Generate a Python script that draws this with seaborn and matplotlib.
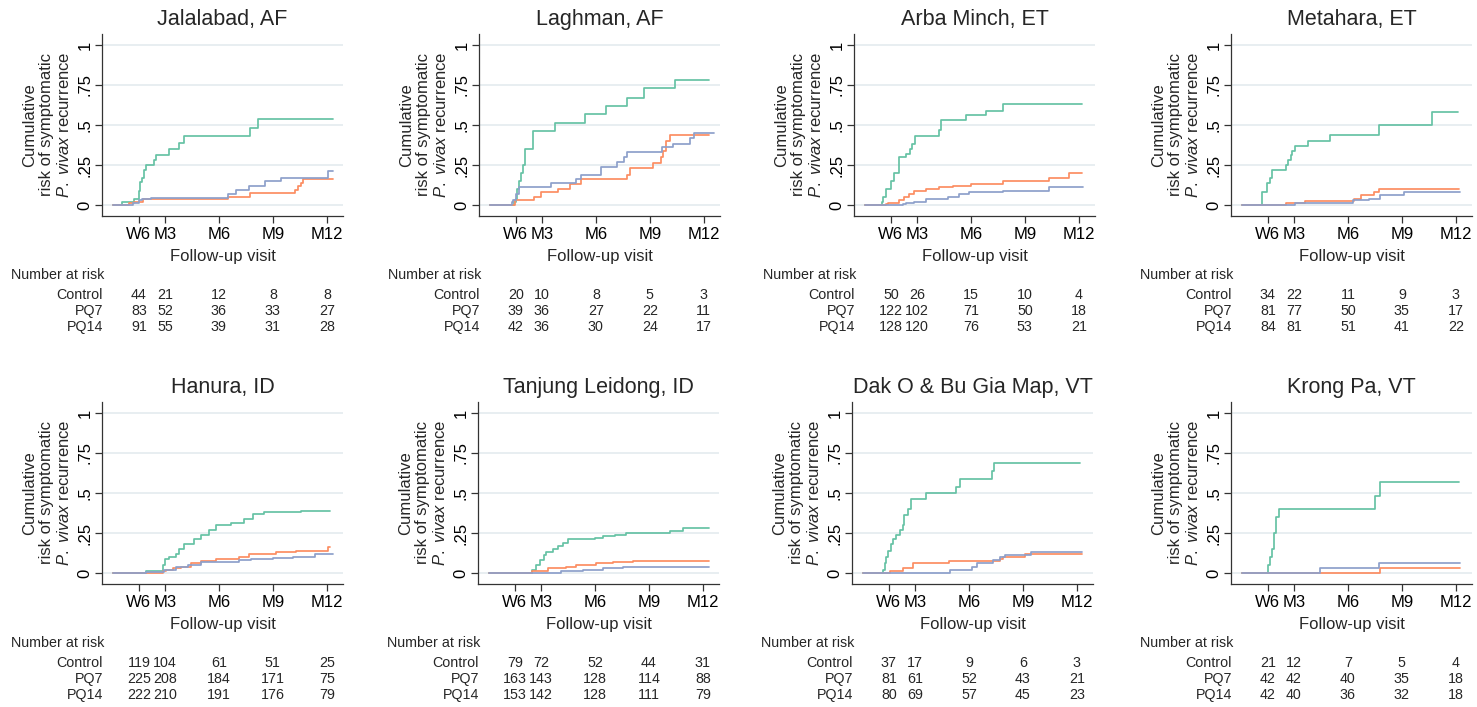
import matplotlib
matplotlib.use("Agg")
import matplotlib.pyplot as plt
import pandas as pd
import seaborn as sns
from matplotlib import font_manager
from matplotlib.transforms import blended_transform_factory

# ---------------------------------------------------------------- data
ARMS = ["Control", "PQ7", "PQ14"]
ARM_COLORS = ["#66c2a5", "#fc8d62", "#8da0cb"]
TICK_POS = [1.55, 3, 6, 9, 12]          # months after enrolment
TICK_LABELS = ["W6", "M3", "M6", "M9", "M12"]
Y_TICKS = [0, 0.25, 0.5, 0.75, 1]
Y_LABELS = ["0", ".25", ".5", ".75", "1"]

# Jalalabad, AF
jal_control_t = [0.1, 0.60, 1.29, 1.53, 1.63, 1.72, 1.81, 1.94, 2.41, 2.50, 3.24, 3.80, 4.08, 7.74, 8.17, 12.35]
jal_control_r = [0, 0.017, 0.04, 0.09, 0.146, 0.167, 0.22, 0.25, 0.28, 0.31, 0.35, 0.39, 0.43, 0.48, 0.54, 0.54]
jal_pq7_t = [0.1, 1.01, 1.29, 1.76, 6.50, 7.74, 10.21, 10.40, 10.59, 10.68, 12.35]
jal_pq7_r = [0, 0.01, 0.02, 0.035, 0.052, 0.073, 0.094, 0.12, 0.14, 0.16, 0.16]
jal_pq14_t = [0.1, 1.20, 1.53, 1.72, 2.20, 6.50, 6.96, 7.70, 8.54, 9.47, 12.07, 12.35]
jal_pq14_r = [0, 0.01, 0.03, 0.04, 0.045, 0.07, 0.095, 0.12, 0.15, 0.17, 0.21, 0.21]
jal_at_risk = [[44, 21, 12, 8, 8], [83, 52, 36, 33, 27], [91, 55, 39, 31, 28]]

# Laghman, AF
lag_control_t = [0.1, 1.47, 1.53, 1.62, 1.72, 1.85, 1.96, 2.04, 2.51, 3.74, 5.40, 6.58, 7.75, 8.70, 10.40, 12.28]
lag_control_r = [0, 0.02, 0.04, 0.10, 0.15, 0.20, 0.25, 0.35, 0.46, 0.51, 0.57, 0.62, 0.67, 0.73, 0.78, 0.78]
lag_pq7_t = [0.1, 1.49, 2.57, 2.94, 3.89, 4.55, 5.17, 7.75, 7.91, 9.17, 9.64, 9.74, 9.92, 10.11, 12.28]
lag_pq7_r = [0, 0.03, 0.05, 0.08, 0.10, 0.13, 0.16, 0.19, 0.23, 0.26, 0.30, 0.34, 0.40, 0.44, 0.44]
lag_pq14_t = [0.1, 1.34, 1.40, 1.53, 1.72, 3.51, 4.92, 5.17, 6.30, 7.19, 7.57, 7.75, 9.70, 10.30, 11.25, 11.43, 12.57]
lag_pq14_r = [0, 0.02, 0.03, 0.07, 0.11, 0.135, 0.16, 0.19, 0.24, 0.27, 0.30, 0.33, 0.36, 0.38, 0.42, 0.45, 0.45]
lag_at_risk = [[20, 10, 8, 5, 3], [39, 36, 27, 22, 11], [42, 36, 30, 24, 17]]

# Arba Minch, ET
arb_control_t = [0.1, 1.06, 1.09, 1.28, 1.56, 1.74, 2.02, 2.39, 2.62, 2.73, 2.91, 4.21, 4.34, 5.70, 6.85, 7.81, 12.19]
arb_control_r = [0, 0.02, 0.05, 0.10, 0.15, 0.20, 0.30, 0.32, 0.35, 0.38, 0.43, 0.47, 0.53, 0.56, 0.59, 0.63, 0.63]
arb_pq7_t = [0.1, 1.28, 1.37, 1.99, 2.30, 2.58, 2.86, 3.51, 4.25, 4.99, 6.01, 7.77, 10.37, 11.48, 12.19]
arb_pq7_r = [0, 0.005, 0.015, 0.03, 0.05, 0.07, 0.09, 0.10, 0.11, 0.12, 0.13, 0.15, 0.17, 0.20, 0.20]
arb_pq14_t = [0.1, 2.21, 2.39, 2.86, 3.51, 4.71, 5.36, 5.92, 7.77, 10.37, 12.23]
arb_pq14_r = [0, 0.005, 0.01, 0.02, 0.035, 0.05, 0.07, 0.08, 0.09, 0.11, 0.11]
arb_at_risk = [[50, 26, 15, 10, 4], [122, 102, 71, 50, 18], [128, 120, 76, 53, 21]]

# Metahara, ET
met_control_t = [0.1, 1.24, 1.52, 1.65, 1.78, 2.57, 2.66, 2.82, 2.91, 3.04, 3.78, 4.98, 7.75, 10.67, 12.10]
met_control_r = [0, 0.08, 0.14, 0.17, 0.22, 0.25, 0.28, 0.31, 0.34, 0.37, 0.40, 0.44, 0.50, 0.58, 0.58]
met_pq7_t = [0.1, 2.57, 3.59, 6.36, 6.73, 7.47, 7.75, 12.19]
met_pq7_r = [0, 0.013, 0.025, 0.04, 0.06, 0.08, 0.10, 0.10]
met_pq14_t = [0.1, 3.04, 6.31, 7.20, 7.79, 9.14, 12.22]
met_pq14_r = [0, 0.013, 0.03, 0.04, 0.06, 0.08, 0.08]
met_at_risk = [[34, 22, 11, 9, 3], [81, 77, 50, 35, 17], [84, 81, 51, 41, 22]]

# Hanura, ID
han_control_t = [0.1, 1.95, 2.91, 3.01, 3.25, 3.62, 3.80, 4.08, 4.64, 5.01, 5.47, 5.84, 6.68, 7.42, 7.92, 8.53, 10.58, 12.15]
han_control_r = [0, 0.01, 0.05, 0.09, 0.10, 0.12, 0.15, 0.18, 0.21, 0.24, 0.27, 0.30, 0.31, 0.34, 0.37, 0.38, 0.39, 0.39]
han_pq7_t = [0.1, 2.91, 3.06, 3.43, 3.90, 4.45, 5.01, 5.84, 7.14, 7.70, 9.18, 10.30, 12.06, 12.15]
han_pq7_r = [0, 0.01, 0.02, 0.03, 0.04, 0.06, 0.075, 0.085, 0.10, 0.12, 0.13, 0.14, 0.16, 0.16]
han_pq14_t = [0.1, 1.95, 2.97, 3.62, 4.27, 5.01, 7.14, 7.79, 9.00, 10.11, 11.32, 12.34]
han_pq14_r = [0, 0.005, 0.02, 0.035, 0.05, 0.07, 0.08, 0.09, 0.095, 0.10, 0.12, 0.12]
han_at_risk = [[119, 104, 61, 51, 25], [225, 208, 184, 171, 75], [222, 210, 191, 176, 79]]

# Tanjung Leidong, ID
tan_control_t = [0.1, 2.52, 2.74, 2.93, 3.17, 3.30, 3.67, 3.94, 4.22, 4.50, 5.98, 6.44, 7.09, 7.74, 10.15, 10.89, 12.33]
tan_control_r = [0, 0.02, 0.05, 0.08, 0.11, 0.13, 0.15, 0.17, 0.19, 0.21, 0.22, 0.23, 0.24, 0.25, 0.26, 0.28, 0.28]
tan_pq7_t = [0.1, 2.52, 3.39, 4.41, 4.96, 6.07, 7.00, 8.11, 12.33]
tan_pq7_r = [0, 0.015, 0.03, 0.04, 0.05, 0.06, 0.07, 0.075, 0.075]
tan_pq14_t = [0.1, 4.13, 5.33, 6.44, 7.56, 12.33]
tan_pq14_r = [0, 0.01, 0.02, 0.03, 0.04, 0.04]
tan_at_risk = [[79, 72, 52, 44, 31], [163, 143, 128, 114, 88], [153, 142, 128, 111, 79]]

# Dak O & Bu Gia Map, VT
dak_control_t = [0.1, 1.22, 1.35, 1.40, 1.50, 1.68, 1.77, 1.95, 2.17, 2.32, 2.41, 2.63, 2.78, 3.60, 5.29, 5.52, 7.27, 7.41, 12.17]
dak_control_r = [0, 0.02, 0.06, 0.10, 0.14, 0.18, 0.21, 0.24, 0.27, 0.30, 0.36, 0.40, 0.46, 0.50, 0.54, 0.59, 0.64, 0.69, 0.69]
dak_pq7_t = [0.1, 1.59, 2.36, 2.87, 4.92, 7.72, 7.91, 9.10, 12.30]
dak_pq7_r = [0, 0.01, 0.03, 0.06, 0.075, 0.09, 0.10, 0.12, 0.12]
dak_pq14_t = [0.1, 4.94, 6.16, 6.44, 7.35, 7.72, 7.99, 9.46, 12.30]
dak_pq14_r = [0, 0.02, 0.04, 0.06, 0.08, 0.10, 0.11, 0.13, 0.13]
dak_at_risk = [[37, 17, 9, 6, 3], [81, 61, 52, 43, 21], [80, 69, 57, 45, 23]]

# Krong Pa, VT
kro_control_t = [0.1, 1.56, 1.65, 1.78, 1.87, 1.98, 2.15, 7.50, 7.76, 12.17]
kro_control_r = [0, 0.05, 0.10, 0.15, 0.25, 0.35, 0.40, 0.48, 0.57, 0.57]
kro_pq7_t = [0.1, 7.76, 12.24]
kro_pq7_r = [0, 0.03, 0.03]
kro_pq14_t = [0.1, 4.43, 7.72, 12.24]
kro_pq14_r = [0, 0.03, 0.06, 0.06]
kro_at_risk = [[21, 12, 7, 5, 4], [42, 42, 40, 35, 18], [42, 40, 36, 32, 18]]

SITES = [
    ("Jalalabad, AF", [(jal_control_t, jal_control_r), (jal_pq7_t, jal_pq7_r), (jal_pq14_t, jal_pq14_r)], jal_at_risk),
    ("Laghman, AF", [(lag_control_t, lag_control_r), (lag_pq7_t, lag_pq7_r), (lag_pq14_t, lag_pq14_r)], lag_at_risk),
    ("Arba Minch, ET", [(arb_control_t, arb_control_r), (arb_pq7_t, arb_pq7_r), (arb_pq14_t, arb_pq14_r)], arb_at_risk),
    ("Metahara, ET", [(met_control_t, met_control_r), (met_pq7_t, met_pq7_r), (met_pq14_t, met_pq14_r)], met_at_risk),
    ("Hanura, ID", [(han_control_t, han_control_r), (han_pq7_t, han_pq7_r), (han_pq14_t, han_pq14_r)], han_at_risk),
    ("Tanjung Leidong, ID", [(tan_control_t, tan_control_r), (tan_pq7_t, tan_pq7_r), (tan_pq14_t, tan_pq14_r)], tan_at_risk),
    ("Dak O & Bu Gia Map, VT", [(dak_control_t, dak_control_r), (dak_pq7_t, dak_pq7_r), (dak_pq14_t, dak_pq14_r)], dak_at_risk),
    ("Krong Pa, VT", [(kro_control_t, kro_control_r), (kro_pq7_t, kro_pq7_r), (kro_pq14_t, kro_pq14_r)], kro_at_risk),
]

# ---------------------------------------------------------------- style
sns.set_theme(style="white")
plt.rcParams["font.family"] = ["Liberation Sans", "DejaVu Sans"]
plt.rcParams["mathtext.fontset"] = "custom"
plt.rcParams["mathtext.rm"] = "Liberation Sans"
plt.rcParams["mathtext.it"] = "Liberation Sans:italic"

# condensed face for the at-risk table when one is installed
_installed = {f.name for f in font_manager.fontManager.ttflist}
if "Liberation Sans Narrow" in _installed:
    TABLE_FONT = dict(family=["Liberation Sans Narrow", "Liberation Sans"], fontsize=11.5)
else:
    TABLE_FONT = dict(family=["Liberation Sans", "DejaVu Sans"], fontsize=10.3)

W, H = 1477, 707
fig = plt.figure(figsize=(W / 100, H / 100), dpi=100, facecolor="white")

AX_W, AX_H = 241, 182.4
COL_LEFT = [[102, 479, 854, 1231], [102, 478, 852, 1231]]
ROW_TOP = [33.8, 401.8]
GRID = "#e6edf0"
SPINE = "#333333"
YLABEL = "Cumulative\nrisk of symptomatic\n$\\it{P.\\ vivax}$ recurrence"

for i, (title, curves, at_risk) in enumerate(SITES):
    r, c = divmod(i, 4)
    left, top = COL_LEFT[r][c], ROW_TOP[r]
    ax = fig.add_axes([left / W, 1 - (top + AX_H) / H, AX_W / W, AX_H / H])

    rows = []
    for arm, (t, risk) in zip(ARMS, curves):
        rows += [(arm, tt, rr) for tt, rr in zip(t, risk)]
    df = pd.DataFrame(rows, columns=["arm", "month", "risk"])

    for yv in Y_TICKS:
        ax.axhline(yv, color=GRID, lw=1.3, zorder=0)

    sns.lineplot(data=df, x="month", y="risk", hue="arm", hue_order=ARMS,
                 palette=ARM_COLORS, drawstyle="steps-post", estimator=None,
                 sort=False, legend=False, lw=1.25, ax=ax)

    ax.set_xlim(-0.5, 12.9)
    ax.set_ylim(-0.07, 1.07)
    ax.set_xticks(TICK_POS)
    ax.set_xticklabels(TICK_LABELS, fontsize=12)
    ax.set_yticks(Y_TICKS)
    ax.set_yticklabels(Y_LABELS, fontsize=12, rotation=90, va="center")
    for s in ("top", "right"):
        ax.spines[s].set_visible(False)
    for s in ("left", "bottom"):
        ax.spines[s].set_color(SPINE)
        ax.spines[s].set_linewidth(0.9)
    ax.tick_params(axis="both", direction="out", length=5, width=0.9,
                   color=SPINE, labelcolor="black", bottom=True, left=True)
    ax.tick_params(axis="x", pad=3)
    ax.tick_params(axis="y", pad=2)
    ax.set_xlabel("Follow-up visit", fontsize=12, labelpad=5)
    ax.set_ylabel(YLABEL, fontsize=12, linespacing=1.15, labelpad=4)
    ax.set_title(title, fontsize=15.5, pad=6)

    # number-at-risk table below the axes
    bottom = top + AX_H
    trans = blended_transform_factory(ax.transData, fig.transFigure)
    fig.text((left - 91) / W, 1 - (bottom + 59) / H, "Number at risk",
             ha="left", va="center", **TABLE_FONT)
    for k, arm in enumerate(ARMS):
        yy = 1 - (bottom + 79 + 16 * k) / H
        fig.text((left + 1) / W, yy, arm, ha="right", va="center", **TABLE_FONT)
        for xp, n in zip(TICK_POS, at_risk[k]):
            ax.text(xp, yy, str(n), transform=trans, ha="center", va="center",
                    **TABLE_FONT)

fig.savefig("out.png", dpi=100, facecolor="white")
